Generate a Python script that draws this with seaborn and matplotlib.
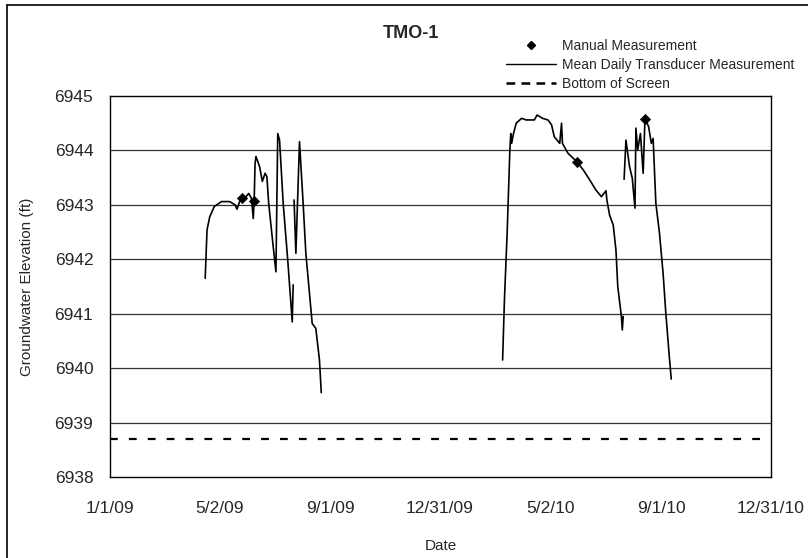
import pandas as pd
import matplotlib
matplotlib.use("Agg")
import matplotlib.pyplot as plt
from matplotlib.lines import Line2D
import seaborn as sns

# === DATA ===
TITLE = "TMO-1"

# mean daily transducer measurements, 4 pieces (gaps between them)
seg_a1_dates = ["2009-04-16", "2009-04-18", "2009-04-21", "2009-04-26", "2009-05-04",
                "2009-05-13", "2009-05-19", "2009-05-21", "2009-05-24", "2009-05-27",
                "2009-05-31", "2009-06-03", "2009-06-06", "2009-06-08", "2009-06-09",
                "2009-06-10", "2009-06-11", "2009-06-15", "2009-06-18", "2009-06-21",
                "2009-06-23", "2009-06-25", "2009-06-30", "2009-07-03", "2009-07-05",
                "2009-07-07", "2009-07-11", "2009-07-16", "2009-07-21", "2009-07-22"]
seg_a1_elev = [6941.65, 6942.54, 6942.78, 6942.97, 6943.06,
               6943.06, 6943.00, 6942.92, 6943.06, 6943.12,
               6943.15, 6943.21, 6943.12, 6942.75, 6943.08,
               6943.76, 6943.89, 6943.70, 6943.43, 6943.58,
               6943.52, 6943.03, 6942.23, 6941.77, 6944.31,
               6944.19, 6943.03, 6941.99, 6940.85, 6941.53]

seg_a2_dates = ["2009-07-23", "2009-07-25", "2009-07-29", "2009-08-02", "2009-08-05",
                "2009-08-12", "2009-08-16", "2009-08-20", "2009-08-22"]
seg_a2_elev = [6943.09, 6942.11, 6944.16, 6943.03, 6942.11,
               6940.82, 6940.73, 6940.15, 6939.55]

seg_b_dates = ["2010-03-10", "2010-03-12", "2010-03-15", "2010-03-18", "2010-03-19",
               "2010-03-20", "2010-03-22", "2010-03-25", "2010-03-31", "2010-04-05",
               "2010-04-14", "2010-04-17", "2010-04-23", "2010-04-29", "2010-05-03",
               "2010-05-06", "2010-05-12", "2010-05-14", "2010-05-15", "2010-05-21",
               "2010-05-31", "2010-06-07", "2010-06-14", "2010-06-21", "2010-06-27",
               "2010-07-02", "2010-07-03", "2010-07-06", "2010-07-10", "2010-07-13",
               "2010-07-15", "2010-07-19", "2010-07-20", "2010-07-21"]
seg_b_elev = [6940.15, 6941.25, 6942.48, 6944.01, 6944.31,
              6944.13, 6944.31, 6944.50, 6944.59, 6944.56,
              6944.56, 6944.65, 6944.59, 6944.56, 6944.47,
              6944.25, 6944.13, 6944.50, 6944.13, 6943.95,
              6943.79, 6943.64, 6943.46, 6943.27, 6943.15,
              6943.26, 6943.09, 6942.81, 6942.63, 6942.17,
              6941.50, 6940.95, 6940.70, 6940.95]

seg_c_dates = ["2010-07-22", "2010-07-24", "2010-07-28", "2010-07-31", "2010-08-03",
               "2010-08-04", "2010-08-06", "2010-08-09", "2010-08-12", "2010-08-14",
               "2010-08-18", "2010-08-21", "2010-08-23", "2010-08-26", "2010-08-30",
               "2010-09-03", "2010-09-06", "2010-09-10", "2010-09-12"]
seg_c_elev = [6943.47, 6944.19, 6943.70, 6943.49, 6942.94,
              6944.41, 6944.01, 6944.31, 6943.58, 6944.58,
              6944.44, 6944.13, 6944.22, 6943.03, 6942.48,
              6941.74, 6941.01, 6940.18, 6939.80]

manual_dates = ["2009-05-27", "2009-06-09", "2010-05-31", "2010-08-14"]
manual_elev = [6943.12, 6943.08, 6943.79, 6944.58]

BOTTOM_OF_SCREEN = 6938.7

x_tick_dates = ["2009-01-01", "2009-05-02", "2009-09-01", "2009-12-31",
                "2010-05-02", "2010-09-01", "2010-12-31"]
x_tick_labels = ["1/1/09", "5/2/09", "9/1/09", "12/31/09", "5/2/10", "9/1/10", "12/31/10"]
y_ticks = [6938, 6939, 6940, 6941, 6942, 6943, 6944, 6945]

legend_labels = ["Manual Measurement", "Mean Daily Transducer Measurement", "Bottom of Screen"]

# === BUILD FRAMES ===
pieces = []
for i, (d, v) in enumerate([(seg_a1_dates, seg_a1_elev), (seg_a2_dates, seg_a2_elev),
                            (seg_b_dates, seg_b_elev), (seg_c_dates, seg_c_elev)]):
    pieces.append(pd.DataFrame({"date": pd.to_datetime(d), "elev": v, "seg": i}))
df = pd.concat(pieces, ignore_index=True)
df_manual = pd.DataFrame({"date": pd.to_datetime(manual_dates), "elev": manual_elev})

# === PLOT ===
sns.set_style("white")
plt.rcParams["font.family"] = ["Liberation Sans", "DejaVu Sans"]

fig = plt.figure(figsize=(8.08, 5.58), dpi=100)
ax = fig.add_axes([110 / 808, 1 - 477 / 558, 661 / 808, 381 / 558])

for yv in y_ticks[1:-1]:
    ax.axhline(yv, color="#333333", lw=0.9, zorder=0)

sns.lineplot(data=df, x="date", y="elev", units="seg", estimator=None,
             color="black", lw=1.2, ax=ax, legend=False)
sns.scatterplot(data=df_manual, x="date", y="elev", marker="D", s=28,
                color="black", edgecolor="black", ax=ax, zorder=5, legend=False)
ax.axhline(BOTTOM_OF_SCREEN, color="black", lw=1.6, ls=(0, (3.5, 5)))

ax.set_xlim(pd.Timestamp(x_tick_dates[0]), pd.Timestamp(x_tick_dates[-1]))
ax.set_ylim(y_ticks[0], y_ticks[-1])
ax.set_xticks(pd.to_datetime(x_tick_dates))
ax.set_xticklabels(x_tick_labels, fontsize=12.5)
ax.set_yticks(y_ticks)
ax.set_yticklabels([str(v) for v in y_ticks], fontsize=12.5)
ax.tick_params(axis="both", direction="out", length=4, width=0.8, color="black", pad=8)
ax.tick_params(axis="x", length=0, pad=17)

for sp in ax.spines.values():
    sp.set_color("black")
    sp.set_linewidth(1.0)

ax.set_xlabel("Date", fontsize=11, labelpad=17)
ax.set_ylabel("Groundwater Elevation (ft)", fontsize=11, labelpad=15)
fig.text(411 / 808, 1 - 33 / 558, TITLE, fontsize=13, fontweight="bold",
         ha="center", va="center")

handles = [
    Line2D([], [], color="black", marker="D", ls="none", markersize=4.5),
    Line2D([], [], color="black", lw=1.0),
    Line2D([], [], color="black", lw=1.8, ls=(0, (3.5, 2.5))),
]
fig.legend(handles, legend_labels, loc="upper left",
           bbox_to_anchor=(506 / 808, 1 - 39 / 558), frameon=False, fontsize=10,
           handlelength=3.6, handletextpad=0.4, labelspacing=0.35, borderpad=0,
           borderaxespad=0)

# chart area border (left and top)
fig.add_artist(Line2D([7 / 808, 7 / 808], [0, 1 - 5 / 558], transform=fig.transFigure,
                      color="black", lw=1.2))
fig.add_artist(Line2D([7 / 808, 1], [1 - 5 / 558, 1 - 5 / 558], transform=fig.transFigure,
                      color="black", lw=1.2))

fig.savefig("out.png", dpi=100)
